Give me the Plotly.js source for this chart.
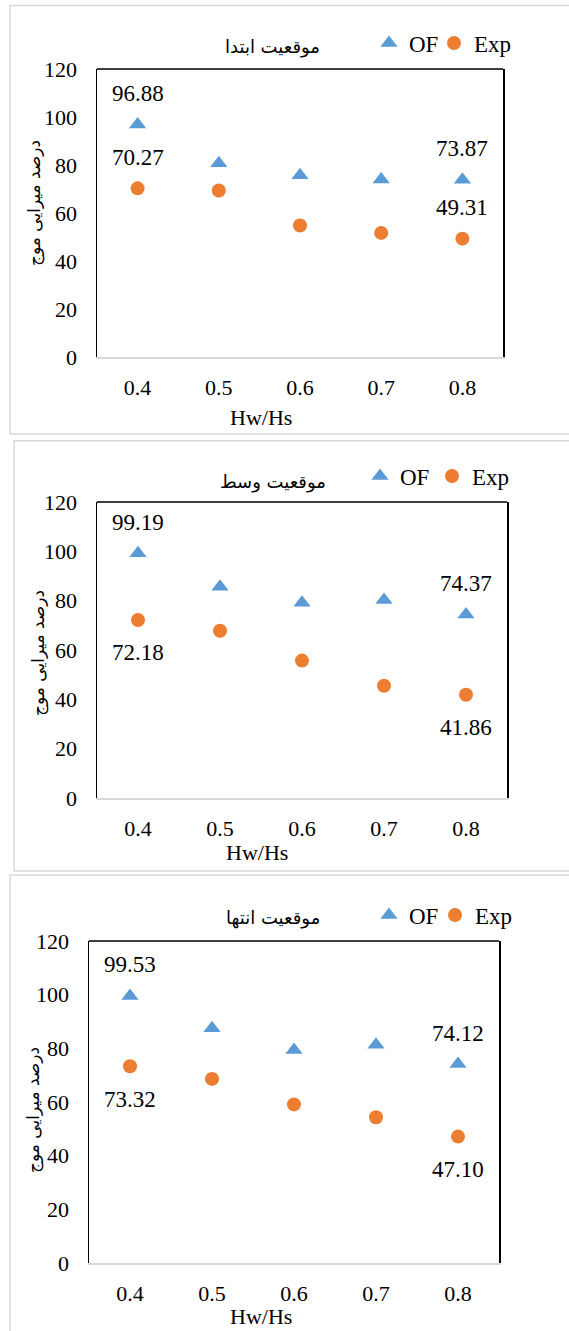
<!DOCTYPE html>
<html>
<head>
<meta charset="utf-8">
<script src="https://cdn.plot.ly/plotly-3.0.1.min.js"></script>
<style>
html,body{margin:0;padding:0;background:#fff;}
#chart{width:569px;height:1331px;}
</style>
</head>
<body>
<div id="chart"></div>
<script>
// ---- data ----
const categories = ['0.4', '0.5', '0.6', '0.7', '0.8'];
const panelTitles = ['موقعیت ابتدا', 'موقعیت وسط', 'موقعیت انتها'];
const seriesNames = ['OF', 'Exp'];
const ofStart = [96.88, 80.7, 75.7, 74.0, 73.87];
const expStart = [70.27, 69.4, 54.8, 51.7, 49.31];
const ofMiddle = [99.19, 85.6, 79.2, 80.3, 74.37];
const expMiddle = [72.18, 67.8, 55.7, 45.5, 41.86];
const ofEnd = [99.53, 87.5, 79.4, 81.3, 74.12];
const expEnd = [73.32, 68.6, 59.1, 54.3, 47.10];
const yTickValues = [0, 20, 40, 60, 80, 100, 120];
const xTitleText = 'Hw/Hs';
const yTitleText = 'درصد میرایی موج';
const labelledIndices = [0, 4];

// ---- layout helpers ----
const W = 569, H = 1331;
const px = v => v / W;
const py = v => 1 - v / H;
const SERIF = 'Liberation Serif';
const PERSIAN = 'DejaVu Sans';
const BLUE = '#5B9BD5', ORANGE = '#ED7D31';

const panels = [
  { of: ofStart, exp: expStart, box: [10, 5.5, 600, 434], plot: [97, 69, 503, 357],
    title: [272, 47], legOF: [389, 43], legExp: [454, 43], xTitle: [261, 417], yTitle: [35, 203],
    ofPos: ['top', 'top'], expPos: ['top', 'top'] },
  { of: ofMiddle, exp: expMiddle, box: [14, 440.7, 600, 871], plot: [97, 502, 507, 798],
    title: [273, 482], legOF: [380, 476], legExp: [452, 476], xTitle: [257, 852], yTitle: [38, 653],
    ofPos: ['top', 'top'], expPos: ['bottom', 'bottom'] },
  { of: ofEnd, exp: expEnd, box: [10, 875, 600, 1360], plot: [89, 941, 499, 1263],
    title: [273, 918], legOF: [389, 915], legExp: [455, 915], xTitle: [261, 1316], yTitle: [33, 1110],
    ofPos: ['top', 'top'], expPos: ['bottom', 'bottom'] }
];

const traces = [];
const layout = {
  width: W, height: H,
  margin: { l: 0, r: 0, t: 0, b: 0 },
  paper_bgcolor: '#fff', plot_bgcolor: '#fff',
  font: { family: SERIF, size: 22, color: '#000' },
  showlegend: true,
  shapes: [], annotations: []
};

panels.forEach((p, i) => {
  const n = i === 0 ? '' : String(i + 1);
  const xa = 'xaxis' + n, ya = 'yaxis' + n;
  const xr = 'x' + n, yr = 'y' + n;
  const legA = 'legend' + (i * 2 === 0 ? '' : String(i * 2 + 1));
  const legB = 'legend' + String(i * 2 + 2);

  traces.push({
    type: 'scatter', mode: 'markers', name: seriesNames[0],
    x: categories, y: p.of, xaxis: xr, yaxis: yr, legend: legA,
    marker: { symbol: 'triangle-up', size: 15, color: BLUE }, hoverinfo: 'skip'
  });
  traces.push({
    type: 'scatter', mode: 'markers', name: seriesNames[1],
    x: categories, y: p.exp, xaxis: xr, yaxis: yr, legend: legB,
    marker: { symbol: 'circle', size: 14, color: ORANGE }, hoverinfo: 'skip'
  });

  layout[xa] = {
    type: 'category', categoryorder: 'array', categoryarray: categories,
    range: [-0.5, 4.5], domain: [px(p.plot[0]), px(p.plot[2])], anchor: yr,
    showgrid: false, zeroline: false, showline: true, linecolor: '#d9d9d9', linewidth: 1.5,
    ticks: '', ticklabelstandoff: 10, tickfont: { family: SERIF, size: 22, color: '#000' },
    fixedrange: true
  };
  layout[ya] = {
    range: [0, 120], tickvals: yTickValues, domain: [py(p.plot[3]), py(p.plot[1])], anchor: xr,
    showgrid: false, zeroline: false, showline: true, mirror: true, linecolor: '#000', linewidth: 1.5,
    ticks: '', ticklabelstandoff: 14, tickfont: { family: SERIF, size: 22, color: '#000' },
    fixedrange: true
  };

  // legends
  layout[legA] = { x: px(p.legOF[0] - 20), y: py(p.legOF[1]), xanchor: 'left', yanchor: 'middle',
    orientation: 'h', bgcolor: 'rgba(0,0,0,0)', borderwidth: 0, font: { family: SERIF, size: 23, color: '#000' } };
  layout[legB] = { x: px(p.legExp[0] - 20), y: py(p.legExp[1]), xanchor: 'left', yanchor: 'middle',
    orientation: 'h', bgcolor: 'rgba(0,0,0,0)', borderwidth: 0, font: { family: SERIF, size: 23, color: '#000' } };

  // panel frame
  layout.shapes.push({ type: 'rect', xref: 'paper', yref: 'paper', layer: 'below',
    x0: px(p.box[0]), x1: px(p.box[2]), y0: py(p.box[3]), y1: py(p.box[1]),
    line: { color: '#d9d9d9', width: 1.5 }, fillcolor: 'rgba(0,0,0,0)' });
  // top border of plot area
  layout.shapes.push({ type: 'line', xref: xr + ' domain', yref: yr + ' domain',
    x0: 0, x1: 1, y0: 1, y1: 1, line: { color: '#000', width: 1.5 } });

  // titles
  layout.annotations.push({ xref: 'paper', yref: 'paper', x: px(p.title[0]), y: py(p.title[1]),
    text: panelTitles[i], showarrow: false, xanchor: 'center', yanchor: 'middle',
    font: { family: PERSIAN, size: 18, color: '#000' } });
  layout.annotations.push({ xref: 'paper', yref: 'paper', x: px(p.xTitle[0]), y: py(p.xTitle[1]),
    text: xTitleText, showarrow: false, xanchor: 'center', yanchor: 'middle',
    font: { family: SERIF, size: 22, color: '#000' } });
  layout.annotations.push({ xref: 'paper', yref: 'paper', x: px(p.yTitle[0]), y: py(p.yTitle[1]),
    text: yTitleText, showarrow: false, xanchor: 'center', yanchor: 'middle', textangle: -90,
    font: { family: PERSIAN, size: 17, color: '#000' } });

  // data labels (x given as category index on the category axis)
  labelledIndices.forEach((k, j) => {
    layout.annotations.push({ xref: xr, yref: yr, x: k, y: p.of[k],
      text: p.of[k].toFixed(2), showarrow: false, xanchor: 'center', yanchor: 'middle',
      yshift: p.ofPos[j] === 'top' ? 31 : -33, font: { family: SERIF, size: 23, color: '#000' } });
    layout.annotations.push({ xref: xr, yref: yr, x: k, y: p.exp[k],
      text: p.exp[k].toFixed(2), showarrow: false, xanchor: 'center', yanchor: 'middle',
      yshift: p.expPos[j] === 'top' ? 31 : -33, font: { family: SERIF, size: 23, color: '#000' } });
  });
});

Plotly.newPlot('chart', traces, layout, { staticPlot: true, displayModeBar: false });
</script>
</body>
</html>
